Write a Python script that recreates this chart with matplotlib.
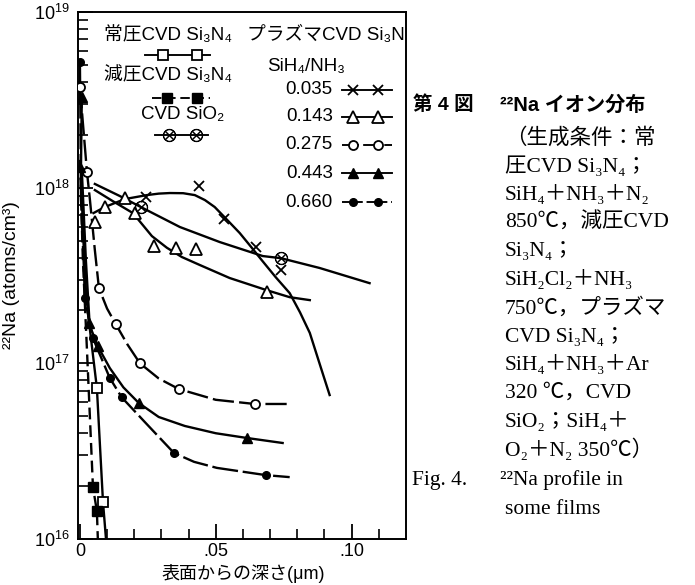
import matplotlib
matplotlib.use('Agg')
import matplotlib.pyplot as plt
from matplotlib.ticker import FixedLocator, FixedFormatter, LogLocator, NullFormatter

SANS = ['Liberation Sans', 'Noto Sans CJK JP', 'DejaVu Sans']
SERIF = ['Liberation Serif', 'Noto Sans CJK JP', 'DejaVu Serif']
plt.rcParams['font.family'] = SANS
plt.rcParams['mathtext.fontset'] = 'custom'
plt.rcParams['mathtext.rm'] = 'Liberation Sans'

# ---------------- data (depth in um, 22Na in atoms/cm3) ----------------
# plasma CVD Si3N4, SiH4/NH3 = 0.035 (x)
x035_pts = [0.0243, 0.0438, 0.0529, 0.0647, 0.0739]
y035_pts = [8.84e17, 1.02e18, 6.63e17, 4.59e17, 3.40e17]
x035_crv = [0.0050, 0.0092, 0.0165, 0.0246, 0.0290, 0.0331, 0.0380, 0.0423, 0.0460, 0.0496, 0.0540, 0.0588, 0.0630, 0.0669, 0.0720, 0.0772, 0.0810, 0.0846, 0.0893, 0.0919]
y035_crv = [7.17e17, 7.76e17, 8.61e17, 9.07e17, 9.25e17, 9.32e17, 9.30e17, 9.07e17, 8.50e17, 7.76e17, 6.60e17, 5.52e17, 4.60e17, 3.87e17, 3.10e17, 2.51e17, 1.95e17, 1.49e17, 8.81e16, 6.60e16]

# 0.143 (open triangle)
x143_pts = [0.0055, 0.0092, 0.0165, 0.0202, 0.0272, 0.0353, 0.0426, 0.0687]
y143_pts = [6.37e17, 7.76e17, 8.73e17, 7.17e17, 4.65e17, 4.53e17, 4.47e17, 2.55e17]
x143_crv = [0.0055, 0.0120, 0.0195, 0.0265, 0.0320, 0.0375, 0.0441, 0.0551, 0.0687, 0.0772, 0.0846]
y143_crv = [9.69e17, 8.40e17, 7.17e17, 5.30e17, 4.55e17, 4.03e17, 3.63e17, 3.06e17, 2.61e17, 2.38e17, 2.29e17]

# 0.275 (open circle)
x275_pts = [0.0, 0.0026, 0.0070, 0.0132, 0.0221, 0.0364, 0.0643]
y275_pts = [3.74e18, 1.23e18, 2.68e17, 1.67e17, 1.00e17, 7.14e16, 5.87e16]
x275_crv = [0.0, 0.0026, 0.0037, 0.0055, 0.0070, 0.0100, 0.0132, 0.0175, 0.0221, 0.0290, 0.0364, 0.0500, 0.0643, 0.0761]
y275_crv = [3.74e18, 1.23e18, 8.50e17, 4.41e17, 2.68e17, 2.05e17, 1.67e17, 1.28e17, 1.00e17, 8.20e16, 7.14e16, 6.20e16, 5.87e16, 5.87e16]

# 0.443 (filled triangle)
x443_pts = [0.0007, 0.0002, 0.0033, 0.0066, 0.0217, 0.0614]
y443_pts = [3.28e18, 1.31e18, 1.69e17, 1.25e17, 5.94e16, 3.76e16]
x443_crv = [0.0007, 0.0004, 0.0011, 0.0022, 0.0033, 0.0066, 0.0110, 0.0160, 0.0217, 0.0290, 0.0386, 0.0500, 0.0614, 0.0746]
y443_crv = [3.28e18, 1.31e18, 5.74e17, 2.61e17, 1.69e17, 1.25e17, 9.40e16, 7.30e16, 5.94e16, 4.95e16, 4.40e16, 4.00e16, 3.76e16, 3.52e16]

# 0.660 (filled circle)
x660_pts = [0.0, 0.0018, 0.0048, 0.0110, 0.0154, 0.0346, 0.0684]
y660_pts = [5.20e18, 2.35e17, 1.39e17, 8.25e16, 6.40e16, 3.09e16, 2.31e16]
x660_crv = [0.0, 0.0002, 0.0004, 0.0015, 0.0018, 0.0048, 0.0110, 0.0154, 0.0239, 0.0346, 0.0420, 0.0504, 0.0684, 0.0772]
y660_crv = [5.20e18, 2.43e18, 8.50e17, 3.40e17, 2.35e17, 1.39e17, 8.25e16, 6.40e16, 4.63e16, 3.09e16, 2.75e16, 2.54e16, 2.31e16, 2.25e16]

# atmospheric-pressure CVD Si3N4 (open square)
xap_pts = [0.00625, 0.0085]
yap_pts = [7.23e16, 1.62e16]
xap_crv = [0.0007, 0.0022, 0.0037, 0.00625, 0.0085, 0.0096]
yap_crv = [1.26e18, 3.87e17, 1.55e17, 7.23e16, 1.62e16, 1.0e16]

# low-pressure CVD Si3N4 (filled square, dashed)
xlp_pts = [0.0048, 0.00625]
ylp_pts = [1.98e16, 1.44e16]
xlp_crv = [0.0, 0.0011, 0.0026, 0.0048, 0.00625, 0.0066]
ylp_crv = [1.44e18, 3.87e17, 1.19e17, 1.98e16, 1.44e16, 1.0e16]

# CVD SiO2 (circled x)
xox_pts = [0.0224, 0.0739]
yox_pts = [7.76e17, 3.97e17]
xox_crv = [0.0055, 0.0147, 0.0224, 0.0368, 0.0515, 0.0673, 0.0739, 0.0882, 0.1066]
yox_crv = [1.05e18, 8.96e17, 7.76e17, 5.97e17, 4.90e17, 4.08e17, 3.97e17, 3.49e17, 2.86e17]

ratio_labels = ['0.035', '0.143', '0.275', '0.443', '0.660']
xtick_vals = [0.0, 0.05, 0.10]
xtick_labels = ['0', '.05', '.10']
ytick_vals = [1e16, 1e17, 1e18, 1e19]
ytick_labels = ['$10^{16}$', '$10^{17}$', '$10^{18}$', '$10^{19}$']

# ---------------- figure ----------------
fig = plt.figure(figsize=(6.95, 5.85), dpi=100)
ax = fig.add_axes([78/695, 1-539/585, 328/695, 527/585])
ax.set_yscale('log')
ax.set_xlim(-0.0007, 0.12)
ax.set_ylim(1e16, 1e19)

K = 'black'
LW = 1.7
styles = {
    '0.035': dict(marker='x', ms=7, mew=1.3, mfc=K, mec=K),
    '0.143': dict(marker='^', ms=8, mew=1.3, mfc='white', mec=K),
    '0.275': dict(marker='o', ms=6.5, mew=1.3, mfc='white', mec=K),
    '0.443': dict(marker='^', ms=7.5, mew=1.0, mfc=K, mec=K),
    '0.660': dict(marker='o', ms=5.5, mew=1.0, mfc=K, mec=K),
    'ap': dict(marker='s', ms=7, mew=1.3, mfc='white', mec=K),
    'lp': dict(marker='s', ms=6.5, mew=1.0, mfc=K, mec=K),
    'ox': dict(marker='$\\otimes$', ms=9, mew=0.6, mfc=K, mec=K),
}
lines = {
    '0.035': dict(ls='-'),
    '0.143': dict(ls='-'),
    '0.275': dict(ls=(0, (9, 2.2))),
    '0.443': dict(ls='-'),
    '0.660': dict(ls=(0, (11, 2))),
    'ap': dict(ls='-'),
    'lp': dict(ls=(0, (5, 2.5))),
    'ox': dict(ls='-'),
}
series = [
    ('0.035', x035_crv, y035_crv, x035_pts, y035_pts),
    ('0.143', x143_crv, y143_crv, x143_pts, y143_pts),
    ('0.275', x275_crv, y275_crv, x275_pts, y275_pts),
    ('0.443', x443_crv, y443_crv, x443_pts, y443_pts),
    ('0.660', x660_crv, y660_crv, x660_pts, y660_pts),
    ('ap', xap_crv, yap_crv, xap_pts, yap_pts),
    ('lp', xlp_crv, ylp_crv, xlp_pts, ylp_pts),
    ('ox', xox_crv, yox_crv, xox_pts, yox_pts),
]
for key, xc, yc, xp, yp in series:
    ax.plot(xc, yc, color=K, lw=LW, **lines[key], zorder=2)
    ax.plot(xp, yp, ls='none', zorder=3, **styles[key])

# ---------------- axes styling ----------------
for s in ax.spines.values():
    s.set_linewidth(1.4)
ax.xaxis.set_major_locator(FixedLocator(xtick_vals))
ax.xaxis.set_major_formatter(FixedFormatter(xtick_labels))
ax.xaxis.set_minor_locator(FixedLocator([0.01, 0.02, 0.03, 0.04, 0.06, 0.07, 0.08, 0.09, 0.11]))
ax.yaxis.set_major_locator(FixedLocator(ytick_vals))
ax.yaxis.set_major_formatter(FixedFormatter(ytick_labels))
ax.yaxis.set_minor_locator(LogLocator(base=10, subs=range(2, 10)))
ax.yaxis.set_minor_formatter(NullFormatter())
ax.tick_params(which='major', direction='in', length=11, width=1.3, labelsize=13,
               top=False, right=False, pad=6)
ax.tick_params(axis='x', which='major', pad=3)
ax.tick_params(which='minor', direction='in', length=7, width=1.2, top=False, right=False)

ax.set_xlabel('表面からの深さ(μm)', fontsize=13)
ax.xaxis.set_label_coords(0.503, -0.047)
ax.set_ylabel('²²Na (atoms/cm³)', fontsize=14, labelpad=10)

# ---------------- in-plot legend ----------------
T = ax.transAxes
FS = 13.5
def handle(key, x0, x1, y, mx):
    ax.plot([x0, x1], [y, y], color=K, lw=LW * 0.8, transform=T, clip_on=False, **lines[key], zorder=4)
    ax.plot(mx, [y] * len(mx), ls='none', transform=T, clip_on=False, zorder=5, **styles[key])

ax.text(0.274, 0.956, '常圧CVD Si₃N₄', transform=T, ha='center', va='center', fontsize=FS)
handle('ap', 0.204, 0.402, 0.918, [0.259, 0.363])
ax.text(0.274, 0.880, '減圧CVD Si₃N₄', transform=T, ha='center', va='center', fontsize=FS)
handle('lp', 0.226, 0.402, 0.837, [0.271, 0.363])
ax.text(0.320, 0.805, 'CVD SiO₂', transform=T, ha='center', va='center', fontsize=FS)
handle('ox', 0.235, 0.396, 0.767, [0.277, 0.360])

ax.text(0.515, 0.956, 'プラズマCVD Si₃N₄', transform=T, ha='left', va='center', fontsize=FS, clip_on=True)
ax.text(0.576, 0.896, 'SiH₄/NH₃', transform=T, ha='left', va='center', fontsize=FS)
row_y = [0.852, 0.801, 0.748, 0.694, 0.639]
for lab, yy in zip(ratio_labels, row_y):
    ax.text(0.777, yy, lab, transform=T, ha='right', va='center', fontsize=FS)
    handle(lab, 0.805, 0.957, yy, [0.838, 0.915])

# ---------------- caption ----------------
def ftxt(px, py, s, fam=SERIF, fs=15.5, **kw):
    fig.text(px / 695, 1 - py / 585, s, family=fam, fontsize=fs, ha='left', va='center', **kw)

ftxt(413, 105, '第 4 図', fam=SANS, fs=14, weight='bold')
ftxt(500, 105, '²²Na イオン分布', fam=SANS, fs=14.5, weight='bold')
cap_lines = ['（生成条件：常', '圧CVD Si₃N₄；', 'SiH₄＋NH₃＋N₂', '850℃，減圧CVD', 'Si₃N₄；',
             'SiH₂Cl₂＋NH₃', '750℃，プラズマ', 'CVD Si₃N₄；', 'SiH₄＋NH₃＋Ar',
             '320 ℃，CVD', 'SiO₂；SiH₄＋', 'O₂＋N₂ 350℃）']
cap_y = [138, 167, 195, 223, 252, 280, 308, 337, 365, 393, 422, 450]
for s, yy in zip(cap_lines, cap_y):
    ftxt(505, yy, s)
ftxt(412, 480, 'Fig. 4.', fs=15.5)
ftxt(500, 480, '²²Na profile in', fs=15.5)
ftxt(505, 509, 'some films', fs=15.5)

fig.savefig('out.png', dpi=100)
